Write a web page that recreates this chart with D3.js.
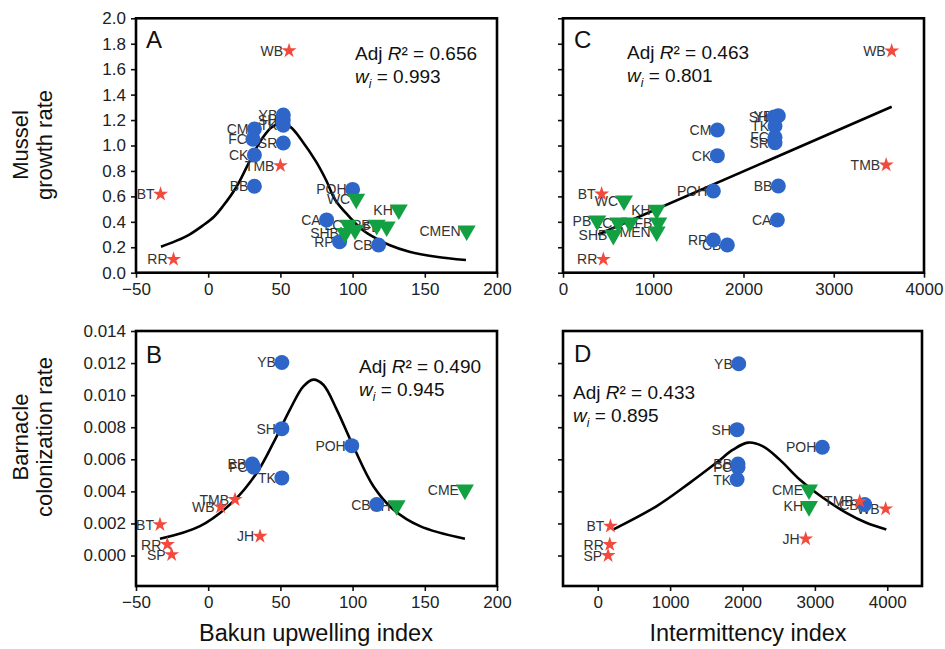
<!DOCTYPE html>
<html><head><meta charset="utf-8">
<script src="https://cdn.jsdelivr.net/npm/d3@7"></script>
<style>
body{margin:0;background:#fff}
svg{display:block}
text{font-family:"Liberation Sans",Arial,Helvetica,sans-serif}
</style>
</head><body>
<svg id="chart" width="945" height="649"></svg>
<script>
// ---------------- DATA ----------------
// Panel A: Bakun upwelling index vs mussel growth rate
const aCircleSites = ["YB","SH","TK","SR","CM","FC","CK","BB","POH","CA","RP","CB"];
const aCircleX = [52, 52, 52, 52, 32, 31, 32, 32, 100, 82, 91, 118];
const aCircleY = [1.24, 1.20, 1.16, 1.02, 1.13, 1.05, 0.925, 0.68, 0.655, 0.415, 0.244, 0.218];
const aTriSites = ["WC","KH","LC","","SHB","PB","FB","CMEN"];
const aTriX = [102.5, 132, 97, 101.7, 94.7, 116.7, 123.6, 179];
const aTriY = [0.58, 0.495, 0.375, 0.336, 0.31, 0.375, 0.362, 0.33];
const aStarSites = ["WB","TMB","BT","RR"];
const aStarX = [56, 50, -33, -24];
const aStarY = [1.745, 0.842, 0.617, 0.105];
const aCurveX = [-32.7, -22.3, -13, -3.8, 4, 10, 19.3, 26.2, 31.9, 37.7, 43.5, 49.3, 56.6, 65.4, 74.7, 81.6, 88, 97.7, 107, 116.2, 125.4, 139.3, 157.8, 178.5];
const aCurveY = [0.204, 0.25, 0.30, 0.37, 0.44, 0.52, 0.67, 0.82, 0.95, 1.06, 1.14, 1.17, 1.148, 1.03, 0.873, 0.729, 0.572, 0.44, 0.336, 0.27, 0.218, 0.165, 0.126, 0.10];

// Panel C: intermittency index vs mussel growth rate
const cCircleSites = ["SH","YB","TK","FC","SR","CM","CK","POH","BB","CA","RP","CB"];
const cCircleX = [2340, 2386, 2349, 2349, 2349, 1710, 1710, 1666, 2386, 2375, 1666, 1821];
const cCircleY = [1.225, 1.234, 1.153, 1.064, 1.022, 1.122, 0.92, 0.642, 0.682, 0.414, 0.257, 0.218];
const cTriSites = ["WC","KH","PB","LC","","FB","SHB","CMEN"];
const cTriX = [676, 1038, 380, 613, 742, 1056, 558, 1038];
const cTriY = [0.566, 0.493, 0.409, 0.393, 0.393, 0.393, 0.296, 0.322];
const cStarSites = ["WB","TMB","BT","RR"];
const cStarX = [3642, 3581, 428, 447];
const cStarY = [1.743, 0.847, 0.619, 0.105];
const cLineX = [391, 3642];
const cLineY = [0.30, 1.305];

// Panel B: Bakun upwelling index vs barnacle colonization rate
const bCircleSites = ["YB","SH","POH","BB","FC","TK","CB"];
const bCircleX = [51, 51, 99.4, 30.5, 31.5, 51, 116.7];
const bCircleY = [0.01204, 0.00791, 0.00685, 0.0057, 0.0055, 0.00484, 0.00318];
const bTriSites = ["KH","CME"];
const bTriX = [130.5, 177.8];
const bTriY = [0.00312, 0.0041];
const bStarSites = ["TMB","WB","BT","JH","RR","SP"];
const bStarX = [18.6, 8.6, -33.4, 35.9, -28.3, -25.3];
const bStarY = [0.00349, 0.00303, 0.00193, 0.0012, 0.00069, 0.00006];
const bCurveX = [-33.4, -5.7, 17.4, 33.6, 45.1, 56.6, 65.9, 72.8, 79.7, 89, 100.5, 114.4, 128.2, 146.7, 177.8];
const bCurveY = [0.00104, 0.00183, 0.00338, 0.00515, 0.00702, 0.0091, 0.01055, 0.01097, 0.01065, 0.0091, 0.00681, 0.00432, 0.00287, 0.00183, 0.00104];

// Panel D: intermittency index vs barnacle colonization rate
const dCircleSites = ["YB","SH","POH","BB","FC","TK","CB"];
const dCircleX = [1948, 1925, 3103, 1938, 1938, 1925, 3688];
const dCircleY = [0.01196, 0.00785, 0.00675, 0.0057, 0.0055, 0.00474, 0.00318];
const dTriSites = ["CME","KH"];
const dTriX = [2919, 2919];
const dTriY = [0.00411, 0.00307];
const dStarSites = ["TMB","WB","JH","BT","RR","SP"];
const dStarX = [3619, 3978, 2873, 175, 166, 143];
const dStarY = [0.00338, 0.00291, 0.00104, 0.00183, 0.00069, 0.0];
const dCurveX = [212, 810, 1271, 1639, 1869, 2076, 2283, 2514, 2790, 3112, 3435, 3711, 3987];
const dCurveY = [0.00162, 0.00307, 0.00453, 0.00578, 0.0066, 0.00704, 0.00681, 0.00598, 0.00474, 0.0036, 0.00266, 0.00204, 0.00162];

// Tick values
const upwellingTicks = [-50, 0, 50, 100, 150, 200];
const intermittencyTicks = [0, 1000, 2000, 3000, 4000];
const musselTicks = [0, 0.2, 0.4, 0.6, 0.8, 1.0, 1.2, 1.4, 1.6, 1.8, 2.0];
const barnacleTicks = [0, 0.002, 0.004, 0.006, 0.008, 0.010, 0.012, 0.014];

// Stats text
const panelLetters = ["A", "B", "C", "D"];
const adjR2 = ["0.656", "0.490", "0.463", "0.433"];
const wi = ["0.993", "0.945", "0.801", "0.895"];

// ---------------- DRAW ----------------
const svg = d3.select("#chart");
const BLUE = "#2d66c8", GREEN = "#13a043", RED = "#f24a3c";

function zip(names, xs, ys) { return names.map((n, i) => ({ n, x: xs[i], y: ys[i] })); }

function panel(cfg) {
  const x = d3.scaleLinear().domain(cfg.xDomain).range([cfg.left, cfg.right]);
  const y = d3.scaleLinear().domain(cfg.yDomain).range([cfg.bottom, cfg.top]);
  const g = svg.append("g");

  const xa = g.append("g").attr("transform", `translate(0,${cfg.bottom})`)
    .call(d3.axisBottom(x).tickValues(cfg.xTicks).tickSize(5).tickPadding(5).tickFormat(d3.format("d")));
  const ya = g.append("g").attr("transform", `translate(${cfg.left},0)`)
    .call(d3.axisLeft(y).tickValues(cfg.yTicks).tickSize(5).tickPadding(5)
      .tickFormat(cfg.yLabels ? d3.format(cfg.yFormat) : () => ""));
  [xa, ya].forEach(a => {
    a.select(".domain").remove();
    a.selectAll(".tick line").attr("stroke", "#111").attr("stroke-width", 1.6);
    a.selectAll(".tick text").attr("font-size", 17).attr("fill", "#222");
  });

  g.append("rect").attr("x", cfg.left).attr("y", cfg.top)
    .attr("width", cfg.right - cfg.left).attr("height", cfg.bottom - cfg.top)
    .attr("fill", "none").attr("stroke", "#000").attr("stroke-width", 2.6);

  // fitted curve
  const pts = cfg.curveX.map((v, i) => [x(v), y(cfg.curveY[i])]);
  g.append("path").attr("d", d3.line().curve(cfg.straight ? d3.curveLinear : d3.curveCatmullRom)(pts))
    .attr("fill", "none").attr("stroke", "#000").attr("stroke-width", 2.6);

  const all = [].concat(cfg.circles, cfg.tris, cfg.stars);
  // labels (under markers)
  g.selectAll("text.lbl").data(all.filter(d => d.n)).join("text").attr("class", "lbl")
    .attr("x", d => x(d.x) - 6).attr("y", d => y(d.y)).attr("dy", "0.36em")
    .attr("text-anchor", "end").attr("font-size", 14).attr("fill", "#333").text(d => d.n);

  g.selectAll("circle.site").data(cfg.circles).join("circle").attr("class", "site")
    .attr("cx", d => x(d.x)).attr("cy", d => y(d.y)).attr("r", 7.5).attr("fill", BLUE);
  g.selectAll("path.tri").data(cfg.tris).join("path").attr("class", "tri")
    .attr("d", d3.symbol().type(d3.symbolTriangle).size(140))
    .attr("transform", d => `translate(${x(d.x)},${y(d.y)}) rotate(180)`).attr("fill", GREEN);
  g.selectAll("path.star").data(cfg.stars).join("path").attr("class", "star")
    .attr("d", d3.symbol().type(d3.symbolStar).size(70))
    .attr("transform", d => `translate(${x(d.x)},${y(d.y)})`).attr("fill", RED);

  // annotations
  g.append("text").attr("x", cfg.letterX).attr("y", cfg.letterY).attr("font-size", 24).attr("fill", "#111").text(cfg.letter);
  const t1 = g.append("text").attr("x", cfg.statX).attr("y", cfg.statY).attr("font-size", 19).attr("fill", "#111");
  t1.append("tspan").text("Adj ");
  t1.append("tspan").attr("font-style", "italic").text("R");
  t1.append("tspan").text("\u00B2 = " + cfg.r2);
  const t2 = g.append("text").attr("x", cfg.statX).attr("y", cfg.statY + 23).attr("font-size", 19).attr("fill", "#111");
  t2.append("tspan").attr("font-style", "italic").text("w");
  t2.append("tspan").attr("font-style", "italic").attr("font-size", 12).attr("dy", 5).text("i");
  t2.append("tspan").attr("dy", -5).text(" = " + cfg.wi);
}

const topY = 18.3, botTop = 272.7, topB = 331, botB = 586;

panel({ xDomain: [-50, 200], yDomain: [0, 2], left: 136, right: 497, top: topY, bottom: botTop,
  xTicks: upwellingTicks, yTicks: musselTicks, yLabels: true, yFormat: ".1f",
  curveX: aCurveX, curveY: aCurveY,
  circles: zip(aCircleSites, aCircleX, aCircleY), tris: zip(aTriSites, aTriX, aTriY), stars: zip(aStarSites, aStarX, aStarY),
  letter: panelLetters[0], letterX: 146, letterY: 48, statX: 355, statY: 60, r2: adjR2[0], wi: wi[0] });

panel({ xDomain: [0, 4000], yDomain: [0, 2], left: 563, right: 924, top: topY, bottom: botTop,
  xTicks: intermittencyTicks, yTicks: musselTicks, yLabels: false,
  curveX: cLineX, curveY: cLineY, straight: true,
  circles: zip(cCircleSites, cCircleX, cCircleY), tris: zip(cTriSites, cTriX, cTriY), stars: zip(cStarSites, cStarX, cStarY),
  letter: panelLetters[2], letterX: 574, letterY: 48, statX: 627, statY: 59, r2: adjR2[2], wi: wi[2] });

panel({ xDomain: [-50, 200], yDomain: [-0.0019, 0.014], left: 136, right: 497, top: topB, bottom: botB,
  xTicks: upwellingTicks, yTicks: barnacleTicks, yLabels: true, yFormat: ".3f",
  curveX: bCurveX, curveY: bCurveY,
  circles: zip(bCircleSites, bCircleX, bCircleY), tris: zip(bTriSites, bTriX, bTriY), stars: zip(bStarSites, bStarX, bStarY),
  letter: panelLetters[1], letterX: 146, letterY: 363, statX: 359, statY: 373, r2: adjR2[1], wi: wi[1] });

panel({ xDomain: [-480, 4480], yDomain: [-0.0019, 0.014], left: 563, right: 922, top: topB, bottom: botB,
  xTicks: intermittencyTicks, yTicks: barnacleTicks.slice(0, 7), yLabels: false,
  curveX: dCurveX, curveY: dCurveY,
  circles: zip(dCircleSites, dCircleX, dCircleY), tris: zip(dTriSites, dTriX, dTriY), stars: zip(dStarSites, dStarX, dStarY),
  letter: panelLetters[3], letterX: 574, letterY: 362, statX: 573, statY: 399, r2: adjR2[3], wi: wi[3] });

// axis titles
svg.append("text").attr("x", 316).attr("y", 641).attr("text-anchor", "middle").attr("font-size", 23.5).attr("fill", "#111").text("Bakun upwelling index");
svg.append("text").attr("x", 748).attr("y", 641).attr("text-anchor", "middle").attr("font-size", 23.5).attr("fill", "#111").text("Intermittency index");

function yTitle(lines, cy) {
  const t = svg.append("text").attr("transform", `translate(0,${cy}) rotate(-90)`)
    .attr("text-anchor", "middle").attr("font-size", 22).attr("fill", "#111");
  t.append("tspan").attr("x", 0).attr("y", 28).text(lines[0]);
  t.append("tspan").attr("x", 0).attr("y", 52).text(lines[1]);
}
yTitle(["Mussel", "growth rate"], 145);
yTitle(["Barnacle", "colonization rate"], 437);
</script>
</body></html>
